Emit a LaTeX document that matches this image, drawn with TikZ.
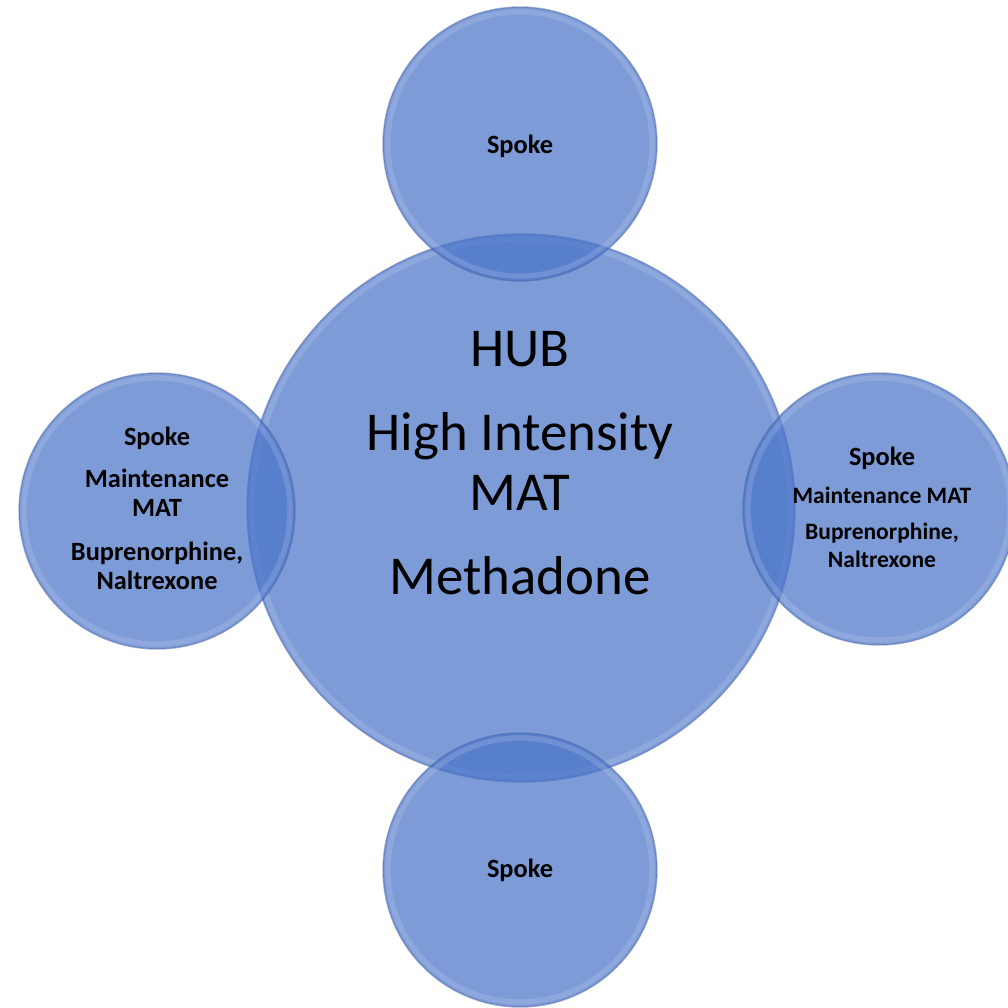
\documentclass[tikz,border=0pt]{standalone}
\usepackage{fontspec}
\setmainfont{Carlito}
\definecolor{bubble}{RGB}{74,116,200}
\definecolor{rim}{RGB}{70,96,160}
\begin{document}
\begin{tikzpicture}[x=0.02cm,y=-0.02cm,
  bubblestyle/.style={circle,fill=bubble,fill opacity=0.72,draw=rim,draw opacity=0.45,line width=0.8pt,inner sep=0pt},
  shine/.style={draw=white,draw opacity=0.14,line width=3pt},
  spoketext/.style={align=center,inner sep=0pt,text=black,font=\bfseries\fontsize{15}{16.5}\selectfont},
  hubtext/.style={align=center,inner sep=0pt,text=black,font=\fontsize{31.2}{34}\selectfont}]
\useasboundingbox (0,0) rectangle (1008,1008);
\clip (0,0) rectangle (1008,1008);
% hub
\node[bubblestyle,minimum size=548*0.02cm] (hub) at (521,508) {};
\draw[shine] (hub.center) circle[radius=269];
% spokes
\node[bubblestyle,minimum size=274*0.02cm] (top) at (520,144) {};
\node[bubblestyle,minimum size=274*0.02cm] (bottom) at (520,870) {};
\node[bubblestyle,minimum size=276*0.02cm] (left) at (157,511) {};
\node[bubblestyle,minimum size=272*0.02cm] (right) at (879,509) {};
\foreach \n/\r in {top/132,bottom/132,left/133,right/131}{
  \draw[shine] (\n.center) circle[radius=\r];
}
% texts
\node[hubtext,anchor=north] (hubt) at (520,331) {HUB\\[14pt]High Intensity\\MAT\\[14pt]Methadone};
\node[spoketext,anchor=base] (topt) at (520,153) {Spoke};
\node[spoketext,anchor=base] (bottomt) at (520,877) {Spoke};
\node[spoketext,anchor=north] (leftt) at (157,427) {Spoke\\[7pt]Maintenance\\MAT\\[8.5pt]Buprenorphine,\\Naltrexone};
\node[spoketext,anchor=north] (rightt) at (882,447) {Spoke\\[5pt]{\fontsize{13.4}{15}\selectfont Maintenance MAT}\\[4.2pt]{\fontsize{13.4}{15}\selectfont Buprenorphine,}\\[-1pt]{\fontsize{13.4}{15}\selectfont Naltrexone}};
\end{tikzpicture}
\end{document}
